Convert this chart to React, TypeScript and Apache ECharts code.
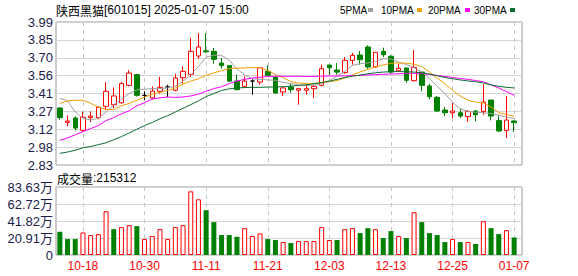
import React, { useEffect, useRef } from "react";
import * as echarts from "echarts";

const dates = ['10-15','10-16','10-17','10-18','10-21','10-22','10-23','10-24','10-25','10-28','10-29','10-30','10-31','11-01','11-04','11-05','11-06','11-07','11-08','11-11','11-12','11-13','11-14','11-15','11-18','11-19','11-20','11-21','11-22','11-25','11-26','11-27','11-28','11-29','12-02','12-03','12-04','12-05','12-06','12-09','12-10','12-11','12-12','12-13','12-16','12-17','12-18','12-19','12-20','12-23','12-24','12-25','12-26','12-27','12-30','12-31','01-02','01-03','01-06','01-07'];
const xLabelDates = ['10-18','10-30','11-11','11-21','12-03','12-13','12-25','01-07'];

const openP = [3.292,3.176,3.211,3.111,3.214,3.214,3.306,3.319,3.335,3.476,3.563,3.395,3.374,3.428,3.463,3.436,3.538,3.566,3.714,3.756,3.752,3.657,3.636,3.511,3.468,3.511,3.503,3.590,3.544,3.422,3.463,3.436,3.436,3.449,3.476,3.641,3.601,3.579,3.679,3.722,3.787,3.625,3.752,3.712,3.595,3.617,3.514,3.584,3.471,3.379,3.276,3.254,3.254,3.222,3.268,3.265,3.357,3.190,3.111,3.187];
const closeP = [3.214,3.187,3.130,3.217,3.227,3.298,3.428,3.390,3.490,3.576,3.395,3.395,3.430,3.460,3.463,3.536,3.590,3.752,3.787,3.748,3.687,3.636,3.511,3.441,3.511,3.511,3.619,3.558,3.414,3.455,3.441,3.449,3.449,3.468,3.611,3.619,3.584,3.679,3.720,3.684,3.625,3.744,3.725,3.584,3.614,3.517,3.622,3.476,3.384,3.268,3.254,3.268,3.227,3.265,3.238,3.341,3.227,3.106,3.195,3.173];
const lowP = [3.197,3.144,3.111,3.100,3.179,3.200,3.274,3.292,3.327,3.468,3.385,3.355,3.363,3.408,3.382,3.428,3.490,3.544,3.692,3.740,3.652,3.611,3.503,3.436,3.457,3.400,3.481,3.552,3.408,3.390,3.416,3.319,3.400,3.374,3.468,3.558,3.563,3.571,3.644,3.644,3.611,3.619,3.706,3.571,3.590,3.498,3.509,3.428,3.363,3.260,3.227,3.211,3.211,3.179,3.184,3.238,3.192,3.098,3.049,3.098];
const highP = [3.300,3.233,3.225,3.262,3.265,3.305,3.503,3.460,3.503,3.598,3.570,3.428,3.468,3.544,3.481,3.571,3.630,3.863,3.900,3.900,3.779,3.698,3.640,3.563,3.550,3.525,3.625,3.639,3.550,3.463,3.490,3.457,3.485,3.481,3.644,3.641,3.657,3.706,3.739,3.755,3.800,3.744,3.782,3.720,3.652,3.617,3.763,3.584,3.490,3.390,3.300,3.333,3.287,3.276,3.276,3.485,3.357,3.233,3.390,3.193];

const ma5 = [3.371,3.35,3.26,3.21,3.195,3.209,3.26,3.32,3.365,3.41,3.44,3.445,3.45,3.45,3.455,3.47,3.51,3.56,3.63,3.705,3.72,3.72,3.68,3.61,3.56,3.53,3.525,3.52,3.517,3.50,3.49,3.48,3.475,3.478,3.49,3.515,3.55,3.59,3.638,3.652,3.657,3.67,3.692,3.69,3.665,3.645,3.62,3.585,3.53,3.47,3.41,3.34,3.285,3.265,3.258,3.254,3.248,3.235,3.218,3.206];
const ma10 = [3.33,3.35,3.355,3.355,3.33,3.30,3.28,3.28,3.31,3.33,3.355,3.38,3.405,3.418,3.435,3.455,3.487,3.51,3.53,3.557,3.577,3.595,3.611,3.616,3.618,3.62,3.62,3.595,3.565,3.54,3.505,3.495,3.49,3.49,3.50,3.505,3.515,3.535,3.56,3.585,3.605,3.625,3.642,3.655,3.658,3.655,3.648,3.628,3.585,3.535,3.49,3.435,3.39,3.355,3.34,3.333,3.30,3.255,3.24,3.225];
const ma20 = [3.03,3.05,3.075,3.10,3.125,3.15,3.19,3.215,3.245,3.27,3.31,3.335,3.365,3.375,3.382,3.378,3.382,3.39,3.405,3.428,3.45,3.465,3.49,3.51,3.525,3.535,3.542,3.548,3.55,3.55,3.55,3.55,3.548,3.548,3.55,3.552,3.552,3.553,3.555,3.557,3.56,3.563,3.566,3.568,3.57,3.572,3.574,3.571,3.565,3.555,3.548,3.54,3.532,3.525,3.515,3.505,3.48,3.455,3.425,3.395];
const ma30 = [2.925,2.935,2.95,2.97,2.98,2.995,3.01,3.035,3.06,3.09,3.12,3.15,3.175,3.205,3.23,3.26,3.29,3.32,3.35,3.385,3.41,3.435,3.448,3.455,3.458,3.46,3.46,3.462,3.463,3.465,3.47,3.475,3.48,3.49,3.498,3.51,3.525,3.54,3.55,3.56,3.57,3.578,3.584,3.587,3.588,3.587,3.584,3.578,3.568,3.555,3.54,3.53,3.52,3.512,3.505,3.495,3.48,3.468,3.46,3.455];

// volume in 万
const volume = [28.6,19.6,19.6,27.7,24.5,25.7,53.8,31.8,34.3,36.7,35.5,19.6,23.3,31.8,19.6,34.3,36.7,78.3,68.5,55.1,40.4,24.5,24.5,22.4,33.0,23.3,26.5,19.6,18.4,15.9,14.7,17.1,17.1,17.1,34.3,18.4,18.4,31.8,33.0,26.9,33.0,31.8,20.8,29.4,23.3,20.8,52.6,40.4,26.9,24.5,15.9,19.6,15.9,15.9,13.5,41.6,33.0,25.7,30.6,21.5312];

const priceTicks = ['2.83','2.98','3.12','3.27','3.41','3.56','3.70','3.85','3.99'];
const volTicks = ['0','20.91万','41.82万','62.72万','83.63万'];
const maNames = ['5PMA','10PMA','20PMA','30PMA'];
const maColors = ['#a0a0a0','#f0a000','#ff00ff','#0a6e32'];
const title = '陕西黑猫';
const titleRest = '[601015] 2025-01-07 15:00';
const volTitle = '成交量';
const volTitleRest = ':215312';

const RED = '#ff0000';
const GREEN = '#008000';
const LABEL = '#1c1c4c';

export default function App() {
  const ref = useRef<HTMLDivElement>(null);
  useEffect(() => {
    if (!ref.current) return;
    const chart = echarts.init(ref.current, undefined, { renderer: 'svg' });
    const showIdx = (i: number) => xLabelDates.indexOf(dates[i]) >= 0;
    const kData = openP.map((o, i) => [o, closeP[i], lowP[i], highP[i]]);
    const volData = volume.map((v, i) => {
      const prev = i === 0 ? openP[0] : closeP[i - 1];
      const up = closeP[i] >= prev;
      return {
        value: v,
        itemStyle: up
          ? { color: '#ffffff', borderColor: RED, borderWidth: 1 }
          : { color: GREEN, borderColor: GREEN, borderWidth: 0 },
      };
    });
    const legendX = [340, 381, 428, 474];
    const legendSq = [368, 417, 465, 510];
    const graphics: any[] = [
      { type: 'text', x: 56, y: 10, style: { text: title, fontSize: 12, fontFamily: '"Noto Sans CJK SC"', fill: '#000', verticalAlign: 'middle' } },
      { type: 'text', x: 104, y: 10, style: { text: titleRest, fontSize: 12, fontFamily: '"Liberation Sans"', fill: '#000', verticalAlign: 'middle' } },
      { type: 'text', x: 57, y: 178, style: { text: volTitle, fontSize: 12, fontFamily: '"Noto Sans CJK SC"', fill: '#000', verticalAlign: 'middle' } },
      { type: 'text', x: 93, y: 178, style: { text: volTitleRest, fontSize: 12, fontFamily: '"Liberation Sans"', fill: '#000', verticalAlign: 'middle' } },
    ];
    maNames.forEach((n, k) => {
      graphics.push({ type: 'text', x: legendX[k], y: 10, style: { text: n, fontSize: 10, fontFamily: '"Liberation Sans"', fill: '#000', verticalAlign: 'middle' } });
      graphics.push({ type: 'rect', shape: { x: legendSq[k], y: 8, width: 5, height: 4 }, style: { fill: maColors[k] } });
    });

    const hiddenCat = (gridIndex: number, labels: boolean) => ({
      type: 'category', gridIndex, data: dates, boundaryGap: false,
      axisLine: { show: false }, axisTick: { show: false },
      axisLabel: labels
        ? { show: true, interval: (i: number) => showIdx(i), color: RED, fontSize: 12, fontFamily: '"Liberation Sans"', margin: 5 }
        : { show: false },
      splitLine: { show: true, interval: (i: number) => showIdx(i), lineStyle: { color: '#c8c8c8', type: [4, 4], width: 1 } },
    });

    chart.setOption({
      animation: false,
      backgroundColor: '#ffffff',
      grid: [
        { left: 56, top: 22, width: 466, height: 143, show: true, borderColor: '#9a9a9a', borderWidth: 1, backgroundColor: 'transparent' },
        { left: 59.85, top: 22, width: 454.3, height: 143 },
        { left: 56, top: 187, width: 466, height: 68, show: true, borderColor: '#9a9a9a', borderWidth: 1, backgroundColor: 'transparent' },
        { left: 59.85, top: 187, width: 454.3, height: 68 },
      ],
      xAxis: [
        { type: 'value', gridIndex: 0, min: 0, max: 1, show: false },
        hiddenCat(1, false),
        { type: 'value', gridIndex: 2, min: 0, max: 1, show: false },
        hiddenCat(3, true),
      ],
      yAxis: [
        {
          type: 'value', gridIndex: 0, min: 0, max: 8, interval: 1,
          axisLine: { show: false }, axisTick: { show: false },
          axisLabel: { formatter: (v: number) => priceTicks[Math.round(v)], color: LABEL, fontSize: 13, fontFamily: '"Liberation Sans"', margin: 3 },
          splitLine: { show: true, lineStyle: { color: '#d4d4d4', width: 1 } },
        },
        { type: 'value', gridIndex: 1, min: 2.83, max: 3.99, show: false, splitLine: { show: false } },
        {
          type: 'value', gridIndex: 2, min: 0, max: 4, interval: 1,
          axisLine: { show: false }, axisTick: { show: false },
          axisLabel: { formatter: (v: number) => volTicks[Math.round(v)], color: LABEL, fontSize: 13, fontFamily: '"Liberation Sans", "Noto Sans CJK SC"', margin: 3 },
          splitLine: { show: true, lineStyle: { color: '#d4d4d4', width: 1 } },
        },
        { type: 'value', gridIndex: 3, min: 0, max: 83.63, show: false, splitLine: { show: false } },
      ],
      graphic: graphics,
      series: [
        {
          type: 'candlestick', name: 'K', xAxisIndex: 1, yAxisIndex: 1, data: kData,
          barWidth: 5, clip: false,
          itemStyle: { color: '#ffffff', color0: GREEN, borderColor: RED, borderColor0: GREEN, borderColorDoji: '#000000', borderWidth: 1 },
        },
        ...[ma5, ma10, ma20, ma30].map((d, k) => ({
          type: 'line', name: maNames[k], xAxisIndex: 1, yAxisIndex: 1, data: d,
          showSymbol: false, symbol: 'none', smooth: false, clip: false,
          lineStyle: { color: maColors[k], width: 1 }, z: 3,
        })),
        {
          type: 'bar', name: 'VOL', xAxisIndex: 3, yAxisIndex: 3, data: volData,
          barWidth: 5, clip: false,
        },
      ],
    });
    return () => chart.dispose();
  }, []);
  return <div ref={ref} style={{ width: 578, height: 276, position: 'absolute', left: 0, top: 0 }} />;
}
